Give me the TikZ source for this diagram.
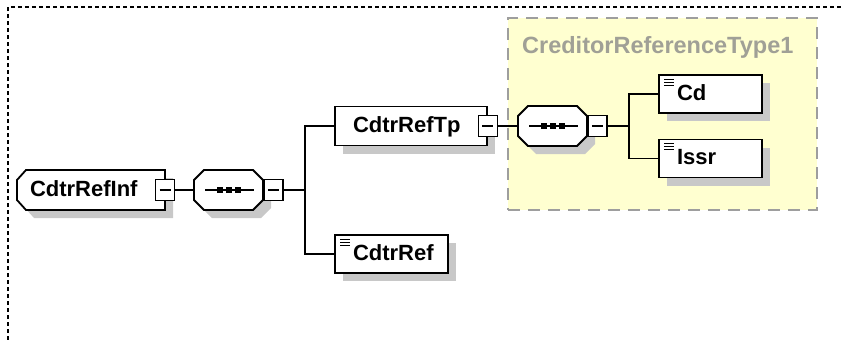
\documentclass[tikz,border=0pt]{standalone}
\usepackage{fontspec}
\setmainfont{Liberation Sans}
\usetikzlibrary{positioning,shadows}
\definecolor{groupfill}{RGB}{255,255,208}
\definecolor{groupline}{RGB}{158,158,158}
\definecolor{grouptext}{RGB}{160,160,150}
\definecolor{shadowgray}{RGB}{200,200,200}
\pgfdeclarelayer{groupbg}
\pgfdeclarelayer{shapebg}
\pgfsetlayers{groupbg,shapebg,main}

% outlines round a named node
\newcommand{\octagonpath}[1]{([xshift=10pt]#1.north west) -- ([xshift=-10pt]#1.north east)
  -- ([yshift=-10pt]#1.north east) -- ([yshift=10pt]#1.south east) -- ([xshift=-10pt]#1.south east)
  -- ([xshift=10pt]#1.south west) -- ([yshift=10pt]#1.south west) -- ([yshift=-10pt]#1.north west) -- cycle}
\newcommand{\rootpath}[1]{([xshift=9pt]#1.north west) -- (#1.north east) -- (#1.south east)
  -- ([xshift=9pt]#1.south west) -- ([yshift=10pt]#1.south west) -- ([yshift=-10pt]#1.north west) -- cycle}
\newcommand{\seqmark}[1]{%
  \draw[line width=1.6pt] ([xshift=11pt]#1.west) -- ([xshift=-9pt]#1.east);
  \foreach \dx in {-9,0,9}
    \fill[black] ([xshift=\dx pt]#1.center) +(-3,-3) rectangle +(3,3);}

\begin{document}
\begin{tikzpicture}[
    x=1pt, y=-1pt,
    every node/.style={font=\fontsize{22}{26}\selectfont\bfseries},
    boxshadow/.style={drop shadow={shadow xshift=8pt, shadow yshift=-8pt, fill=shadowgray, opacity=1}},
    outline/.style={draw, line width=1.8pt, fill=white, boxshadow},
    element/.style={outline, rectangle, minimum height=39pt,
      inner xsep=18pt, inner ysep=0pt, align=left, text height=16pt, text depth=4pt},
    simple/.style={element, path picture={
        \foreach \dy in {4,7,10}
          \draw[line width=1pt] ([xshift=5pt,yshift=-\dy pt]path picture bounding box.north west) -- ++(10,0);}},
    rootelement/.style={rectangle, outer sep=0pt, minimum height=40pt, inner xsep=13pt, inner ysep=0pt,
      align=left, text height=16pt, text depth=4pt},
    sequence/.style={rectangle, outer sep=0pt, minimum width=69pt, minimum height=40pt, inner sep=0pt},
    collapse/.style={draw, line width=1.8pt, fill=white, minimum width=19pt, minimum height=21pt, inner sep=0pt,
      path picture={\draw[line width=1.4pt] ([xshift=4pt]path picture bounding box.west) -- ([xshift=-4pt]path picture bounding box.east);}},
    group/.style={draw=groupline, fill=groupfill, line width=1.8pt, dash pattern=on 12pt off 8pt,
      minimum width=309pt, minimum height=192pt, inner sep=0pt},
    grouptitle/.style={anchor=west, inner sep=0pt, text=grouptext, font=\fontsize{23.5}{28}\selectfont\bfseries},
    link/.style={line width=1.8pt},
  ]
  \useasboundingbox (0,0) rectangle (841,340);
  \draw[line width=2.5pt, dash pattern=on 4pt off 3pt] (8,340) -- (8,7) -- (841,7);

  % complex type of CdtrRefTp
  \begin{pgfonlayer}{groupbg}
    \node[group] (crtype) at (662.5,114) {};
  \end{pgfonlayer}
  \node[grouptitle] (crtitle) at (522,47) {CreditorReferenceType1};

  \node[rootelement, minimum width=148pt, text width=122pt] (cdtrrefinf) at (91,190) {CdtrRefInf};
  \node[collapse] (cdtrrefinfm) at (cdtrrefinf.east) {};
  \node[sequence] (seqa) at (228.5,190) {};
  \node[collapse, anchor=west] (seqam) at (seqa.east) {};
  \coordinate (forka) at (305,190);

  \node[element, minimum width=152pt, text width=116pt] (cdtrreftp) at (411,126) {CdtrRefTp};
  \node[collapse] (cdtrreftpm) at (cdtrreftp.east) {};
  \node[simple, minimum width=113pt, minimum height=38pt, text width=77pt] (cdtrref) at (391.5,254) {CdtrRef};

  \node[sequence] (seqb) at (552.5,126) {};
  \node[collapse, anchor=west] (seqbm) at (seqb.east) {};
  \coordinate (forkb) at (629,126);
  \node[simple, minimum width=103pt, minimum height=38pt, text width=67pt] (cd) at (710.5,94) {Cd};
  \node[simple, minimum width=103pt, minimum height=38pt, text width=67pt] (issr) at (710.5,158.5) {Issr};

  \begin{pgfonlayer}{shapebg}
    \draw[outline] \rootpath{cdtrrefinf};
    \draw[outline] \octagonpath{seqa};
    \draw[outline] \octagonpath{seqb};
  \end{pgfonlayer}
  \seqmark{seqa}
  \seqmark{seqb}

  \draw[link] (cdtrrefinfm) -- (seqa);
  \draw[link] (seqam) -- (forka) |- (cdtrreftp);
  \draw[link] (forka) |- (cdtrref);
  \draw[link] (cdtrreftpm) -- (seqb);
  \draw[link] (seqbm) -- (forkb) |- (cd);
  \draw[link] (forkb) |- (issr);
\end{tikzpicture}
\end{document}
